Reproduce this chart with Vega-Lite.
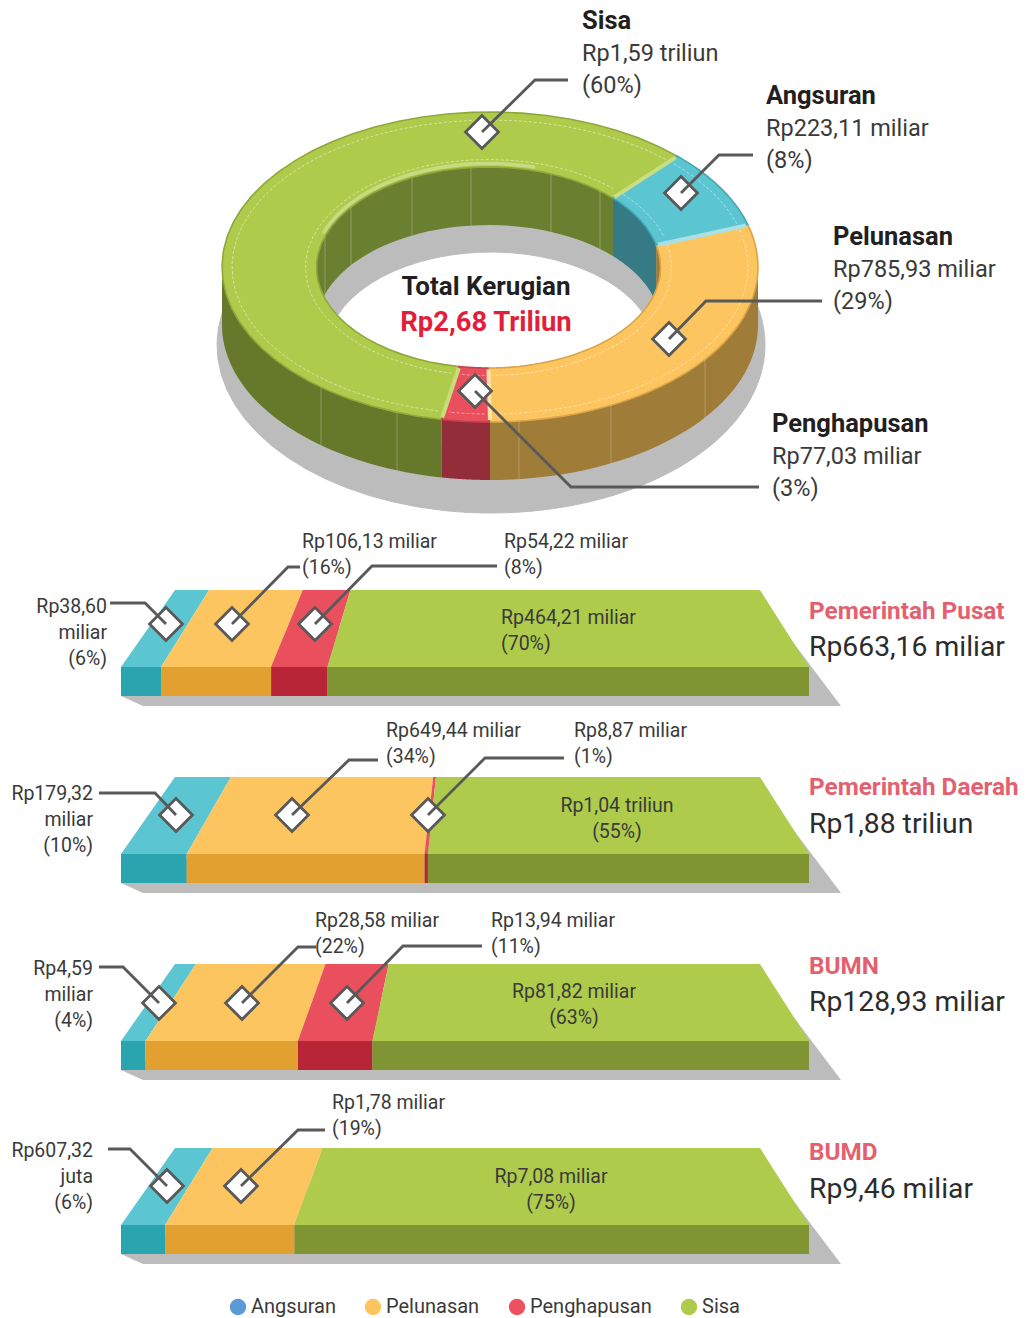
{
"$schema":"https://vega.github.io/schema/vega-lite/v6.json",
"width":1030,"height":1318,"padding":0,
"autosize":{"type":"fit","contains":"padding"},
"background":"white",
"config":{"view":{"stroke":null},"text":{"font":"Roboto"},"legend":{"labelFont":"Roboto"}},
"datasets":{
"rincian":[
{"kelompok":"Total","status":"Sisa","nilai":1590,"label":"Rp1,59 triliun\n(60%)"},
{"kelompok":"Total","status":"Angsuran","nilai":223.11,"label":"Rp223,11 miliar\n(8%)"},
{"kelompok":"Total","status":"Pelunasan","nilai":785.93,"label":"Rp785,93 miliar\n(29%)"},
{"kelompok":"Total","status":"Penghapusan","nilai":77.03,"label":"Rp77,03 miliar\n(3%)"},
{"kelompok":"Pemerintah Pusat","status":"Angsuran","nilai":38.6,"label":"Rp38,60\nmiliar\n(6%)"},
{"kelompok":"Pemerintah Pusat","status":"Pelunasan","nilai":106.13,"label":"Rp106,13  miliar\n(16%)"},
{"kelompok":"Pemerintah Pusat","status":"Penghapusan","nilai":54.22,"label":"Rp54,22 miliar\n(8%)"},
{"kelompok":"Pemerintah Pusat","status":"Sisa","nilai":464.21,"label":"Rp464,21 miliar\n(70%)"},
{"kelompok":"Pemerintah Daerah","status":"Angsuran","nilai":179.32,"label":"Rp179,32\nmiliar\n(10%)"},
{"kelompok":"Pemerintah Daerah","status":"Pelunasan","nilai":649.44,"label":"Rp649,44  miliar\n(34%)"},
{"kelompok":"Pemerintah Daerah","status":"Penghapusan","nilai":8.87,"label":"Rp8,87  miliar\n(1%)"},
{"kelompok":"Pemerintah Daerah","status":"Sisa","nilai":1040,"label":"Rp1,04  triliun\n(55%)"},
{"kelompok":"BUMN","status":"Angsuran","nilai":4.59,"label":"Rp4,59\nmiliar\n(4%)"},
{"kelompok":"BUMN","status":"Pelunasan","nilai":28.58,"label":"Rp28,58  miliar\n(22%)"},
{"kelompok":"BUMN","status":"Penghapusan","nilai":13.94,"label":"Rp13,94  miliar\n(11%)"},
{"kelompok":"BUMN","status":"Sisa","nilai":81.82,"label":"Rp81,82 miliar\n(63%)"},
{"kelompok":"BUMD","status":"Angsuran","nilai":0.60732,"label":"Rp607,32\njuta\n(6%)"},
{"kelompok":"BUMD","status":"Pelunasan","nilai":1.78,"label":"Rp1,78  miliar\n(19%)"},
{"kelompok":"BUMD","status":"Sisa","nilai":7.08,"label":"Rp7,08  miliar\n(75%)"}
],
"kelompok":[
{"kelompok":"Pemerintah Pusat","total":"Rp663,16 miliar"},
{"kelompok":"Pemerintah Daerah","total":"Rp1,88 triliun"},
{"kelompok":"BUMN","total":"Rp128,93 miliar"},
{"kelompok":"BUMD","total":"Rp9,46 miliar"},
{"kelompok":"Total Kerugian","total":"Rp2,68 Triliun"}
]
},
"encoding":{
"x":{"field":"px","type":"quantitative","axis":null,"scale":{"domain":[0,1030],"nice":false,"zero":false}},
"y":{"field":"py","type":"quantitative","axis":null,"scale":{"domain":[0,1318],"reverse":true,"nice":false,"zero":false}}
},
"layer":[
{
"encoding":{"fill":{"field":"warna","type":"nominal","legend":null,"scale":{
"domain":["Angsuran|atas","Pelunasan|atas","Penghapusan|atas","Sisa|atas","Angsuran|depan","Pelunasan|depan","Penghapusan|depan","Sisa|depan","Angsuran|luar","Pelunasan|luar","Penghapusan|luar","Sisa|luar","Angsuran|dalam","Pelunasan|dalam","Penghapusan|dalam","Sisa|dalam","bayangan"],
"range":["#5bc5d1","#fdc55f","#ea4f5e","#aecb4c","#2aa5b0","#e1a030","#b72536","#7f9433","#2f8c99","#9f7c38","#942d3a","#66792b","#357a85","#9f7c38","#942d3a","#6b7f30","#bcbcbc"]}}},
"layer":[
{
"data":{"name":"rincian"},
"transform":[
{"filter":"datum.kelompok==='Total'"},
{"joinaggregate":[{"op":"sum","field":"nilai","as":"jumlah"}]},
{"window":[{"op":"sum","field":"nilai","as":"kum"}],"sort":[{"field":"status"}]},
{"calculate":"44.26+360*(datum.kum-datum.nilai)/datum.jumlah","as":"a0"},
{"calculate":"44.26+360*datum.kum/datum.jumlah","as":"a1"},
{"calculate":"sequence(0,82)","as":"i"},
{"flatten":["i"]},
{"calculate":"datum.i<=40?datum.i/40:(81-datum.i)/40","as":"f"}
],
"layer":[
{
"mark":{"type":"line","stroke":"#bcbcbc","strokeWidth":1},
"transform":[
{"calculate":"(datum.a0+(datum.a1-datum.a0)*datum.f)*PI/180","as":"th"},
{"calculate":"491+(datum.i<=40?274:165)*sin(datum.th)","as":"px"},
{"calculate":"datum.i<=40?345-168*cos(datum.th):352-100*cos(datum.th)","as":"py"},
{"calculate":"'bayangan'","as":"warna"}
],
"encoding":{"order":{"field":"i","type":"quantitative"},"detail":{"field":"status"}}
},
{
"mark":{"type":"line","strokeWidth":0},
"transform":[
{"calculate":"max(datum.a0,90)","as":"lo"},
{"calculate":"min(datum.a1,270)","as":"hi"},
{"filter":"datum.hi>datum.lo"},
{"calculate":"(datum.lo+(datum.hi-datum.lo)*datum.f)*PI/180","as":"th"},
{"calculate":"490+268*sin(datum.th)","as":"px"},
{"calculate":"267-155*cos(datum.th)+(datum.i<=40?0:58)","as":"py"},
{"calculate":"datum.status+'|luar'","as":"warna"}
],
"encoding":{"order":{"field":"i","type":"quantitative"},"detail":{"field":"status"}}
},
{
"mark":{"type":"line","strokeWidth":0},
"transform":[
{"calculate":"datum.a0>=180?360:0","as":"dasar"},
{"calculate":"max(datum.a0,datum.dasar-90)","as":"lo"},
{"calculate":"min(datum.a1,datum.dasar+90)","as":"hi"},
{"filter":"datum.hi>datum.lo"},
{"calculate":"(datum.lo+(datum.hi-datum.lo)*datum.f)*PI/180","as":"th"},
{"calculate":"datum.th+0.052*sin(datum.th)","as":"th"},
{"calculate":"488.5+172*sin(datum.th)","as":"px"},
{"calculate":"267.5-100.5*cos(datum.th)+(datum.i<=40?0:58)","as":"py"},
{"calculate":"datum.status+'|dalam'","as":"warna"}
],
"encoding":{"order":{"field":"i","type":"quantitative"},"detail":{"field":"status"}}
},
{
"mark":{"type":"line","strokeWidth":1.6},
"transform":[
{"calculate":"(datum.a0+(datum.a1-datum.a0)*datum.f)*PI/180","as":"th"},
{"calculate":"datum.th+0.052*sin(datum.th)","as":"thd"},
{"calculate":"datum.i<=40?490+268*sin(datum.th):488.5+172*sin(datum.thd)","as":"px"},
{"calculate":"datum.i<=40?267-155*cos(datum.th):267.5-100.5*cos(datum.thd)","as":"py"},
{"calculate":"datum.status+'|atas'","as":"warna"}
],
"encoding":{"order":{"field":"i","type":"quantitative"},"detail":{"field":"status"},
"stroke":{"field":"status","type":"nominal","legend":null,"scale":{"domain":["Angsuran","Pelunasan","Penghapusan","Sisa","Angsuran|sambung","Pelunasan|sambung","Penghapusan|sambung","Sisa|sambung"],"range":["#45a6b3","#d9a548","#c9404e","#8fa83a","#a9e0e5","#fde3a8","#c8dc7c","#c9dd82"]}}}
},
{
"mark":{"type":"line","stroke":"#c9dd88","strokeWidth":3.5,"strokeCap":"round","opacity":0.9},
"transform":[
{"filter":"datum.status==='Sisa'&&datum.i<=40"},
{"calculate":"(290+85*datum.f)*PI/180","as":"th"},
{"calculate":"488.5+175*sin(datum.th)","as":"px"},
{"calculate":"267.5-104*cos(datum.th)","as":"py"}
],
"encoding":{"fill":{"value":null},"order":{"field":"i","type":"quantitative"},"detail":{"field":"status"}}
},
{
"mark":{"type":"line","stroke":"white","strokeWidth":0.8,"strokeDash":[3,2],"opacity":0.6},
"transform":[
{"filter":"datum.i<=40"},
{"calculate":"(datum.a0+1.2+(datum.a1-datum.a0-2.4)*datum.f)*PI/180","as":"th"},
{"calculate":"490+258*sin(datum.th)","as":"px"},
{"calculate":"267-147*cos(datum.th)","as":"py"}
],
"encoding":{"fill":{"value":null},"order":{"field":"i","type":"quantitative"},"detail":{"field":"status"}}
},
{
"mark":{"type":"line","stroke":"white","strokeWidth":0.8,"strokeDash":[3,2],"opacity":0.6},
"transform":[
{"filter":"datum.i<=40"},
{"calculate":"(datum.a0+1.2+(datum.a1-datum.a0-2.4)*datum.f)*PI/180","as":"th"},
{"calculate":"488.5+183*sin(datum.th)","as":"px"},
{"calculate":"267.5-108*cos(datum.th)","as":"py"}
],
"encoding":{"fill":{"value":null},"order":{"field":"i","type":"quantitative"},"detail":{"field":"status"}}
},
{
"mark":{"type":"line","strokeWidth":4},
"transform":[
{"filter":"datum.i<=1"},
{"calculate":"datum.a1*PI/180","as":"th"},
{"calculate":"datum.th+0.052*sin(datum.th)","as":"thd"},
{"calculate":"datum.i==0?490+266*sin(datum.th):488.5+174*sin(datum.thd)","as":"px"},
{"calculate":"datum.i==0?267-153*cos(datum.th):267.5-102*cos(datum.thd)","as":"py"},
{"calculate":"datum.status+'|sambung'","as":"sambung"}
],
"encoding":{"fill":{"value":null},"order":{"field":"i","type":"quantitative"},"detail":{"field":"status"},
"stroke":{"field":"sambung","type":"nominal","legend":null,"scale":{"domain":["Angsuran","Pelunasan","Penghapusan","Sisa","Angsuran|sambung","Pelunasan|sambung","Penghapusan|sambung","Sisa|sambung"],"range":["#45a6b3","#d9a548","#c9404e","#8fa83a","#a9e0e5","#fde3a8","#c8dc7c","#c9dd82"]}}}
}
]
},
{
"data":{"name":"kelompok"},
"mark":{"type":"area","orient":"horizontal"},
"transform":[
{"filter":"datum.kelompok!=='Total Kerugian'"},
{"calculate":"{'Pemerintah Pusat':590,'Pemerintah Daerah':777,'BUMN':964,'BUMD':1148}[datum.kelompok]","as":"atas"},
{"calculate":"[0,1,2]","as":"k"},
{"flatten":["k"]},
{"calculate":"datum.atas+[39,106,116][datum.k]","as":"py"},
{"calculate":"[300,121,143][datum.k]","as":"px"},
{"calculate":"[783,833.5,841][datum.k]","as":"px2"},
{"calculate":"'bayangan'","as":"warna"}
],
"encoding":{"x2":{"field":"px2"},"detail":{"field":"kelompok"}}
},
{
"data":{"name":"rincian"},
"transform":[
{"filter":"datum.kelompok!=='Total'"},
{"joinaggregate":[{"op":"sum","field":"nilai","as":"jumlah"}],"groupby":["kelompok"]},
{"window":[{"op":"sum","field":"nilai","as":"kum"}],"sort":[{"field":"status"}],"groupby":["kelompok"]},
{"calculate":"(datum.kum-datum.nilai)/datum.jumlah","as":"s0"},
{"calculate":"datum.kum/datum.jumlah","as":"s1"},
{"calculate":"{'Pemerintah Pusat':590,'Pemerintah Daerah':777,'BUMN':964,'BUMD':1148}[datum.kelompok]","as":"atas"}
],
"layer":[
{
"mark":{"type":"area","orient":"horizontal"},
"transform":[
{"calculate":"[0,1]","as":"tepi"},
{"flatten":["tepi"]},
{"calculate":"datum.atas+77*datum.tepi","as":"py"},
{"calculate":"175-54*datum.tepi+(585+103*datum.tepi)*datum.s0","as":"px"},
{"calculate":"175-54*datum.tepi+(585+103*datum.tepi)*datum.s1","as":"px2"},
{"calculate":"datum.status+'|atas'","as":"warna"}
],
"encoding":{"x2":{"field":"px2"},"detail":{"field":"kelompok"}}
},
{
"mark":{"type":"rect"},
"transform":[
{"calculate":"datum.atas+77","as":"py"},
{"calculate":"datum.atas+106","as":"py2"},
{"calculate":"121+688*datum.s0","as":"px"},
{"calculate":"121+688*datum.s1","as":"px2"},
{"calculate":"datum.status+'|depan'","as":"warna"}
],
"encoding":{"x2":{"field":"px2"},"y2":{"field":"py2"}}
}
]
}
]
},
{
"data":{"name":"rincian"},
"transform":[
{"calculate":"{'Total|Sisa':[482,132,535,80,568,80,582,54,'B'],'Total|Angsuran':[681,193,719,155,753,155,766,129,'B'],'Total|Pelunasan':[669,339,706,301,822,301,833,270,'B'],'Total|Penghapusan':[475,391,571,487,759,487,772,457,'B'],'Pemerintah Pusat|Angsuran':[166,624,145,603,110,603,107,607,'R'],'Pemerintah Pusat|Pelunasan':[232,624,288,567,300,567,302,542,'L'],'Pemerintah Pusat|Penghapusan':[315,624,372,566,497,566,504,542,'L'],'Pemerintah Pusat|Sisa':[null,null,null,null,null,null,501,618,'L'],'Pemerintah Daerah|Angsuran':[176,815,155,793,99,793,93,794,'R'],'Pemerintah Daerah|Pelunasan':[292,815,349,760,378,760,386,731,'L'],'Pemerintah Daerah|Penghapusan':[428,815,485,758,564,758,574,731,'L'],'Pemerintah Daerah|Sisa':[null,null,null,null,null,null,617,806,'C'],'BUMN|Angsuran':[159,1003,123,967,99,967,93,969,'R'],'BUMN|Pelunasan':[242,1003,298,947,316,947,315,921,'L'],'BUMN|Penghapusan':[347,1003,403,946,482,946,491,921,'L'],'BUMN|Sisa':[null,null,null,null,null,null,574,992,'C'],'BUMD|Angsuran':[167,1186,130,1149,108,1149,93,1151,'R'],'BUMD|Pelunasan':[241,1186,298,1130,325,1130,332,1103,'L'],'BUMD|Sisa':[null,null,null,null,null,null,551,1177,'C']}[datum.kelompok+'|'+datum.status]","as":"tata"},
{"calculate":"datum.tata[6]","as":"tx"},
{"calculate":"datum.tata[7]","as":"ty"},
{"calculate":"datum.tata[8]","as":"rata"}
],
"layer":[
{
"mark":{"type":"rule","stroke":"white","strokeWidth":0.8,"opacity":0.3},
"transform":[
{"filter":"datum.kelompok==='Total'&&(datum.status==='Sisa'||datum.status==='Pelunasan')"},
{"calculate":"{'Sisa':[321,397],'Pelunasan':[519,611,705]}[datum.status]","as":"gx"},
{"flatten":["gx"]},
{"calculate":"datum.gx","as":"px"},
{"calculate":"267+155*sqrt(1-pow((datum.gx-490)/268,2))","as":"py"},
{"calculate":"datum.py+58","as":"py2"}
],
"encoding":{"y2":{"field":"py2"}}
},
{
"mark":{"type":"rule","stroke":"white","strokeWidth":0.8,"opacity":0.3},
"transform":[
{"filter":"datum.kelompok==='Total'&&datum.status==='Sisa'"},
{"calculate":"[325,351,412,471,551,600]","as":"gx"},
{"flatten":["gx"]},
{"calculate":"datum.gx","as":"px"},
{"calculate":"267.5-100.5*sqrt(1-pow((datum.gx-488.5)/172,2))","as":"py"},
{"calculate":"datum.py+58","as":"py2"}
],
"encoding":{"y2":{"field":"py2"}}
},
{
"mark":{"type":"point","shape":"diamond","filled":true,"fill":"white","stroke":"#595959","strokeWidth":2.8,"size":1080,"opacity":1},
"transform":[{"filter":"datum.tata[0]!=null"},{"calculate":"datum.tata[0]","as":"px"},{"calculate":"datum.tata[1]","as":"py"}],
"encoding":{}
},
{
"mark":{"type":"line","stroke":"#595959","strokeWidth":2.8},
"transform":[{"filter":"datum.tata[0]!=null"},{"calculate":"[0,1,2]","as":"k"},{"flatten":["k"]},{"calculate":"datum.tata[2*datum.k]","as":"px"},{"calculate":"datum.tata[2*datum.k+1]","as":"py"}],
"encoding":{"order":{"field":"k","type":"quantitative"},"detail":[{"field":"kelompok"},{"field":"status"}]}
},
{
"mark":{"type":"text","align":"left","lineBreak":"\n","lineHeight":32,"fontSize":23.5,"fill":"#3a3a3a","font":"Roboto"},
"transform":[{"filter":"datum.rata==='B'"},{"calculate":"datum.tx","as":"px"},{"calculate":"datum.ty","as":"py"}],
"encoding":{"text":{"field":"label"}}
},
{
"mark":{"type":"text","align":"left","fontSize":25.5,"fontWeight":"bold","fill":"#231f20","font":"Roboto"},
"transform":[{"filter":"datum.rata==='B'"},{"calculate":"datum.tx","as":"px"},{"calculate":"datum.ty-33","as":"py"}],
"encoding":{"text":{"field":"status"}}
},
{
"mark":{"type":"text","align":"left","lineBreak":"\n","lineHeight":26,"fontSize":19.5,"fill":"#3a3a3a","font":"Roboto"},
"transform":[{"filter":"datum.rata==='L'"},{"calculate":"datum.tx","as":"px"},{"calculate":"datum.ty","as":"py"}],
"encoding":{"text":{"field":"label"}}
},
{
"mark":{"type":"text","align":"right","lineBreak":"\n","lineHeight":26,"fontSize":19.5,"fill":"#3a3a3a","font":"Roboto"},
"transform":[{"filter":"datum.rata==='R'"},{"calculate":"datum.tx","as":"px"},{"calculate":"datum.ty","as":"py"}],
"encoding":{"text":{"field":"label"}}
},
{
"mark":{"type":"text","align":"center","lineBreak":"\n","lineHeight":26,"fontSize":19.5,"fill":"#3a3a3a","font":"Roboto"},
"transform":[{"filter":"datum.rata==='C'"},{"calculate":"datum.tx","as":"px"},{"calculate":"datum.ty","as":"py"}],
"encoding":{"text":{"field":"label"}}
}
]
},
{
"data":{"name":"kelompok"},
"transform":[
{"calculate":"{'Pemerintah Pusat':[809,612,648],'Pemerintah Daerah':[809,788,825],'BUMN':[809,967,1003],'BUMD':[809,1153,1190],'Total Kerugian':[486,287,323]}[datum.kelompok]","as":"tata"},
{"calculate":"datum.tata[0]","as":"px"}
],
"layer":[
{
"mark":{"type":"text","align":"left","fontSize":24.3,"fontWeight":"bold","fill":"#e3616e","font":"Roboto"},
"transform":[{"filter":"datum.kelompok!=='Total Kerugian'"},{"calculate":"datum.tata[1]","as":"py"}],
"encoding":{"text":{"field":"kelompok"}}
},
{
"mark":{"type":"text","align":"left","fontSize":28.3,"fill":"#2c2c2c","font":"Roboto"},
"transform":[{"filter":"datum.kelompok!=='Total Kerugian'"},{"calculate":"datum.tata[2]","as":"py"}],
"encoding":{"text":{"field":"total"}}
},
{
"mark":{"type":"text","align":"center","fontSize":26,"fontWeight":"bold","fill":"#231f20","font":"Roboto"},
"transform":[{"filter":"datum.kelompok==='Total Kerugian'"},{"calculate":"datum.tata[1]","as":"py"}],
"encoding":{"text":{"field":"kelompok"}}
},
{
"mark":{"type":"text","align":"center","fontSize":27.4,"fontWeight":"bold","fill":"#e21f3b","font":"Roboto"},
"transform":[{"filter":"datum.kelompok==='Total Kerugian'"},{"calculate":"datum.tata[2]","as":"py"}],
"encoding":{"text":{"field":"total"}}
}
]
},
{
"data":{"name":"rincian"},
"mark":{"type":"point","filled":true,"opacity":0},
"transform":[{"filter":"datum.kelompok==='Total'"},{"calculate":"500","as":"px"},{"calculate":"1306","as":"py"}],
"encoding":{"color":{"field":"status","type":"nominal","scale":{"domain":["Angsuran","Pelunasan","Penghapusan","Sisa"],"range":["#5b9bd5","#fec55f","#ec5160","#aecb4c"]},
"legend":{"title":null,"orient":"none","legendX":228,"legendY":1297,"direction":"horizontal","columns":4,"symbolType":"circle","symbolSize":270,"symbolOpacity":1,"symbolStrokeWidth":0,"labelFontSize":20,"labelColor":"#3a3a3a","labelOffset":3,"columnPadding":27}}}
}
]
}
